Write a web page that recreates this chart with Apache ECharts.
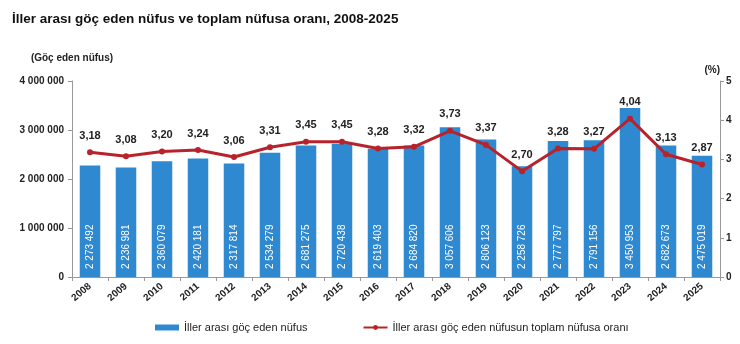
<!DOCTYPE html>
<html>
<head>
<meta charset="utf-8">
<script src="https://cdn.jsdelivr.net/npm/echarts@6/dist/echarts.min.js"></script>
<style>
  html, body { margin: 0; padding: 0; background: #fff; }
  #chart { width: 740px; height: 344px; }
</style>
</head>
<body>
<div id="chart"></div>
<script>
// yıllar
var years = ['2008', '2009', '2010', '2011', '2012', '2013', '2014', '2015', '2016',
  '2017', '2018', '2019', '2020', '2021', '2022', '2023', '2024', '2025'];
// iller arası göç eden nüfus
var migrants = [2273492, 2236981, 2360079, 2420181, 2317814, 2534279, 2681275, 2720438, 2619403,
  2684820, 3057606, 2806123, 2258726, 2777797, 2791156, 3450953, 2682673, 2475019];
// toplam nüfusa oranı (%)
var ratio = [3.18, 3.08, 3.20, 3.24, 3.06, 3.31, 3.45, 3.45, 3.28,
  3.32, 3.73, 3.37, 2.70, 3.28, 3.27, 4.04, 3.13, 2.87];

function spaced(n) {
  return String(n).replace(/\B(?=(\d{3})+(?!\d))/g, ' ');
}

var font = 'Liberation Sans, Arial, sans-serif';
var chart = echarts.init(document.getElementById('chart'));

chart.setOption({
  animation: false,
  textStyle: { fontFamily: font },
  title: {
    text: 'İller arası göç eden nüfus ve toplam nüfusa oranı, 2008-2025',
    left: 7, top: 7,
    textStyle: { fontSize: 13.5, fontWeight: 'bold', color: '#111', fontFamily: font }
  },
  grid: { left: 72, right: 20, top: 81, bottom: 67 },
  legend: {
    bottom: 6, left: 150, itemGap: 55, itemWidth: 24, itemHeight: 6,
    textStyle: { fontSize: 11, color: '#222', fontFamily: font },
    data: [
      { name: 'İller arası göç eden nüfus', icon: 'rect' },
      { name: 'İller arası göç eden nüfusun toplam nüfusa oranı' }
    ]
  },
  xAxis: {
    type: 'category',
    data: years,
    axisLine: { lineStyle: { color: '#999' } },
    axisTick: { show: true, length: 4, lineStyle: { color: '#999' } },
    axisLabel: { rotate: 40, fontSize: 10, fontWeight: 'bold', color: '#222', margin: 8, interval: 0 }
  },
  yAxis: [
    {
      type: 'value', min: 0, max: 4000000, interval: 1000000,
      name: '(Göç eden nüfus)',
      nameLocation: 'end', nameGap: 18,
      nameTextStyle: { fontSize: 10, fontWeight: 'bold', color: '#222', align: 'center' },
      axisLine: { show: true, lineStyle: { color: '#999' } },
      axisTick: { show: true, length: 4, lineStyle: { color: '#999' } },
      splitLine: { show: false },
      axisLabel: { fontSize: 10, fontWeight: 'bold', color: '#222', margin: 8, formatter: spaced }
    },
    {
      type: 'value', min: 0, max: 5, interval: 1,
      name: '(%)',
      nameLocation: 'end', nameGap: 6,
      nameTextStyle: { fontSize: 10, fontWeight: 'bold', color: '#222', align: 'right' },
      axisLine: { show: true, lineStyle: { color: '#999' } },
      axisTick: { show: true, length: 4, lineStyle: { color: '#999' } },
      splitLine: { show: false },
      axisLabel: { fontSize: 10, fontWeight: 'bold', color: '#222', margin: 6 }
    }
  ],
  series: [
    {
      name: 'İller arası göç eden nüfus',
      type: 'bar',
      data: migrants,
      barWidth: '57%',
      itemStyle: { color: '#2E89D0' },
      label: {
        show: true, position: 'insideBottom', rotate: 90, distance: 8,
        align: 'left', verticalAlign: 'middle',
        color: '#fff', fontSize: 10,
        formatter: function (p) { return spaced(p.value); }
      }
    },
    {
      name: 'İller arası göç eden nüfusun toplam nüfusa oranı',
      type: 'line',
      yAxisIndex: 1,
      data: ratio,
      symbol: 'circle', symbolSize: 6,
      lineStyle: { color: '#B8232B', width: 3 },
      itemStyle: { color: '#B8232B' },
      label: {
        show: true, position: 'top', distance: 8,
        fontSize: 11, fontWeight: 'bold', color: '#222',
        formatter: function (p) { return p.value.toFixed(2).replace('.', ','); }
      }
    }
  ]
});
</script>
</body>
</html>
